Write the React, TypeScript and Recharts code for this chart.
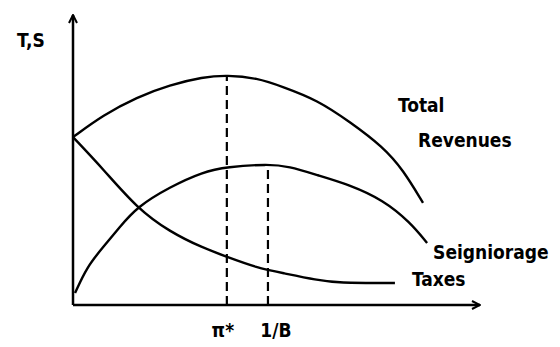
import React from "react";
import { LineChart, Line, XAxis, YAxis, ReferenceLine } from "recharts";

// curves (arbitrary units, 0..100 on both axes)
const totalX = [0, 7.4, 15.7, 23.8, 31.9, 37.8, 45.2, 51.6, 60.0, 68.1, 76.2, 81.1, 86.0];
const totalY = [57.9, 65.5, 71.7, 75.9, 78.6, 79.3, 78.3, 75.2, 70.7, 63.1, 54.5, 46.6, 35.2];

const seignX = [0.5, 3.4, 7.4, 11.5, 15.7, 23.8, 31.9, 37.8, 47.9, 53.0, 60.0, 68.1, 76.2, 82.8, 87.0];
const seignY = [4.1, 13.1, 20.0, 26.9, 33.8, 40.7, 45.9, 47.6, 48.6, 47.8, 44.8, 41.4, 36.2, 28.6, 21.4];

const taxX = [0, 7.4, 15.7, 23.8, 31.9, 37.8, 45.2, 51.6, 60.0, 64.9, 79.1];
const taxY = [57.9, 46.9, 33.4, 25.2, 19.7, 16.6, 12.8, 11.0, 8.6, 7.6, 7.6];

const piStar = 37.8;
const invB = 47.9;
const tickLabels: Record<number, string> = { [piStar]: "π*", [invB]: "1/B" };

const toRows = (xs: number[], ys: number[]) => xs.map((x, i) => ({ x, y: ys[i] }));

const totalData = toRows(totalX, totalY);
const seignData = toRows(seignX, seignY);
const taxData = toRows(taxX, taxY);

const FONT = "'DejaVu Sans Condensed', 'DejaVu Sans', sans-serif";
const txt = { fontFamily: FONT, fontWeight: 700, fontSize: 19, fill: "#000" };

const endLabel = (last: number, lines: { t: string; dx: number; dy: number }[]) => (p: any) => {
  if (p.index !== last) return null;
  return (
    <g>
      {lines.map((l) => (
        <text key={l.t} x={p.x + l.dx} y={p.y + l.dy} dominantBaseline="central" style={txt}>
          {l.t}
        </text>
      ))}
    </g>
  );
};

const AxisTick = (p: any) => {
  const v = p.payload.value;
  const shift = v === invB ? 8 : -4;
  return (
    <text x={p.x + shift} y={p.y + 17} textAnchor="middle" dominantBaseline="central" style={txt}>
      {tickLabels[v]}
    </text>
  );
};

const YLabel = (p: any) => {
  const vb = p.viewBox;
  return (
    <text x={vb.x - 41} y={vb.y + 25} textAnchor="middle" dominantBaseline="central" style={txt}>
      T,S
    </text>
  );
};

export default function App() {
  return (
    <div style={{ position: "absolute", left: 0, top: 0, background: "#fff" }}>
      <LineChart width={560} height={347} margin={{ top: 15, right: 80, bottom: 12, left: 72 }}>
        <defs>
          <marker
            id="arrowHead"
            viewBox="0 0 10 10"
            refX={9}
            refY={5}
            markerWidth={10}
            markerHeight={10}
            markerUnits="userSpaceOnUse"
            orient="auto-start-reverse"
          >
            <path d="M1,1 L9,5 L1,9" stroke="#000" strokeWidth={2} fill="none" />
          </marker>
        </defs>
        <XAxis
          type="number"
          dataKey="x"
          domain={[0, 100]}
          ticks={[piStar, invB]}
          height={30}
          tickLine={false}
          axisLine={{ stroke: "#000", strokeWidth: 2.5, markerEnd: "url(#arrowHead)" }}
          tick={<AxisTick />}
          allowDuplicatedCategory={false}
        />
        <YAxis
          type="number"
          domain={[0, 100]}
          width={1}
          tick={false}
          tickLine={false}
          axisLine={{ stroke: "#000", strokeWidth: 2.5, markerStart: "url(#arrowHead)" }}
          label={{ content: <YLabel /> }}
        />
        <ReferenceLine
          segment={[{ x: piStar, y: 0 }, { x: piStar, y: 79.0 }]}
          stroke="#000"
          strokeWidth={2.2}
          strokeDasharray="9 5"
        />
        <ReferenceLine
          segment={[{ x: invB, y: 0 }, { x: invB, y: 48.4 }]}
          stroke="#000"
          strokeWidth={2.2}
          strokeDasharray="9 5"
        />
        <Line
          data={totalData}
          dataKey="y"
          type="basis"
          stroke="#000"
          strokeWidth={2.4}
          dot={false}
          isAnimationActive={false}
          label={endLabel(totalData.length - 1, [
            { t: "Total", dx: -25, dy: -98 },
            { t: "Revenues", dx: -5, dy: -63 },
          ])}
        />
        <Line
          data={seignData}
          dataKey="y"
          type="basis"
          stroke="#000"
          strokeWidth={2.4}
          dot={false}
          isAnimationActive={false}
          label={endLabel(seignData.length - 1, [{ t: "Seigniorage", dx: 6, dy: 9 }])}
        />
        <Line
          data={taxData}
          dataKey="y"
          type="basis"
          stroke="#000"
          strokeWidth={2.4}
          dot={false}
          isAnimationActive={false}
          label={endLabel(taxData.length - 1, [{ t: "Taxes", dx: 17, dy: -4 }])}
        />
      </LineChart>
    </div>
  );
}
